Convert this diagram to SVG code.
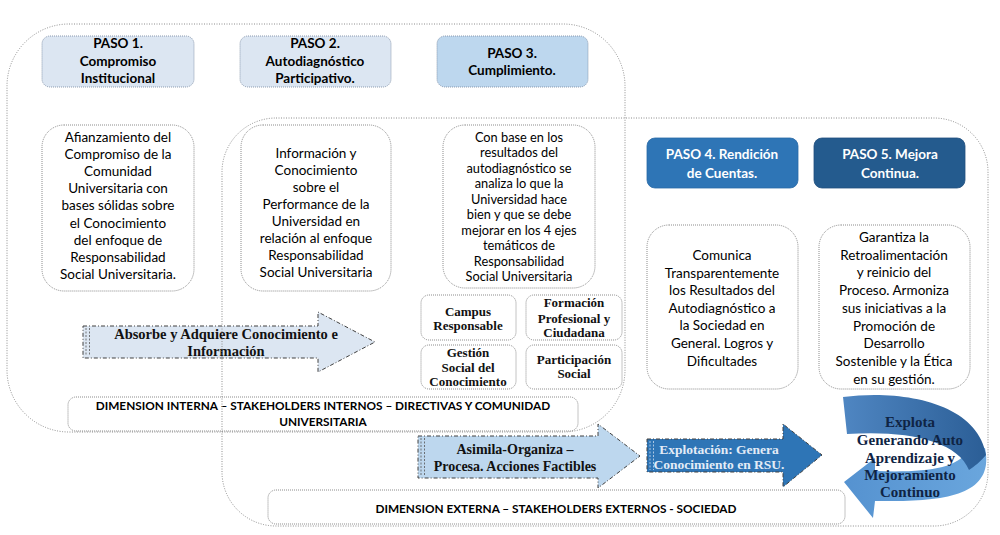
<svg xmlns="http://www.w3.org/2000/svg" width="1000" height="535" viewBox="0 0 1000 535">
<defs>
<style>
.frame{fill:none;stroke:#8c8c8c;stroke-width:1;stroke-dasharray:1 1.5}
.box{fill:#fff;stroke:#7f7f7f;stroke-width:0.9;stroke-dasharray:1 1}
.pl{fill:#dce6f2;stroke:#7f8fa6;stroke-width:0.9;stroke-dasharray:1 1}
.pm{fill:#bdd7ee;stroke:#7f8fa6;stroke-width:0.9;stroke-dasharray:1 1}
.pd{fill:#2e75b6;stroke:#2a6aa6;stroke-width:0.8}
.pdd{fill:#245b8e;stroke:#214f7e;stroke-width:0.8}
.t{font-family:Lato,"Open Sans",sans-serif;font-size:13.5px;fill:#000;text-anchor:middle}
.ts{font-size:12.8px}
.b{font-weight:bold}
.w{fill:#fff}
.dim{font-size:11.8px}
.s{font-family:"Liberation Serif","Times New Roman",serif;font-weight:bold;text-anchor:middle;fill:#111}
.e{font-size:13px}
.lp{font-size:15px;fill:#0f2444}
.arr{stroke:#404040;stroke-width:1;stroke-dasharray:4 2 1 2}
.stripe{stroke:#555;stroke-width:0.8;stroke-dasharray:2 1.5;fill:none}
</style>
<linearGradient id="gDark" x1="0" y1="0" x2="1" y2="0">
<stop offset="0" stop-color="#4f86c2"/>
<stop offset="1" stop-color="#2b5e96"/>
</linearGradient>
<linearGradient id="gLight" x1="0" y1="0" x2="1" y2="0">
<stop offset="0" stop-color="#5592d0"/>
<stop offset="1" stop-color="#6aa6dd"/>
</linearGradient>
</defs>
<rect width="1000" height="535" fill="#fff"/>

<g id="paso1">
<rect class="pl" x="42" y="36" width="152" height="51" rx="8"/>
<text class="t b" x="118" y="48">PASO 1.</text>
<text class="t b" x="118" y="66">Compromiso</text>
<text class="t b" x="118" y="83">Institucional</text>
</g>
<g id="paso2">
<rect class="pl" x="240" y="36" width="151" height="51" rx="8"/>
<text class="t b" x="315" y="48">PASO 2.</text>
<text class="t b" x="315" y="66">Autodiagnóstico</text>
<text class="t b" x="315" y="83">Participativo.</text>
</g>
<g id="paso3">
<rect class="pm" x="437" y="36" width="151" height="51" rx="8"/>
<text class="t b" x="512" y="58">PASO 3.</text>
<text class="t b" x="512" y="75">Cumplimiento.</text>
</g>
<g id="paso4">
<rect class="pd" x="647" y="138" width="151" height="50" rx="8"/>
<text class="t b w" x="722" y="159">PASO 4. Rendición</text>
<text class="t b w" x="722" y="178">de Cuentas.</text>
</g>
<g id="paso5">
<rect class="pdd" x="814" y="138" width="151" height="50" rx="8"/>
<text class="t b w" x="890" y="159">PASO 5. Mejora</text>
<text class="t b w" x="890" y="178">Continua.</text>
</g>

<g id="desc1">
<rect class="box" x="42" y="125" width="152" height="166" rx="22"/>
<text class="t" x="118" y="142">Afianzamiento del</text>
<text class="t" x="118" y="159.1">Compromiso de la</text>
<text class="t" x="118" y="176.2">Comunidad</text>
<text class="t" x="118" y="193.3">Universitaria con</text>
<text class="t" x="118" y="210.4">bases sólidas sobre</text>
<text class="t" x="118" y="227.5">el Conocimiento</text>
<text class="t" x="118" y="244.6">del enfoque de</text>
<text class="t" x="118" y="261.7">Responsabilidad</text>
<text class="t" x="118" y="278.8">Social Universitaria.</text>
</g>
<g id="desc2">
<rect class="box" x="241" y="125" width="150" height="166" rx="22"/>
<text class="t" x="316" y="158">Información y</text>
<text class="t" x="316" y="175">Conocimiento</text>
<text class="t" x="316" y="192">sobre el</text>
<text class="t" x="316" y="209">Performance de la</text>
<text class="t" x="316" y="226">Universidad en</text>
<text class="t" x="316" y="243">relación al enfoque</text>
<text class="t" x="316" y="260">Responsabilidad</text>
<text class="t" x="316" y="277">Social Universitaria</text>
</g>
<g id="desc3">
<rect class="box" x="443" y="125" width="152" height="163" rx="22"/>
<text class="t ts" x="519" y="141.5">Con base en los</text>
<text class="t ts" x="519" y="157">resultados del</text>
<text class="t ts" x="519" y="172.6">autodiagnóstico se</text>
<text class="t ts" x="519" y="188.1">analiza lo que la</text>
<text class="t ts" x="519" y="203.7">Universidad hace</text>
<text class="t ts" x="519" y="219.2">bien y que se debe</text>
<text class="t ts" x="519" y="234.8">mejorar en los 4 ejes</text>
<text class="t ts" x="519" y="250.3">temáticos de</text>
<text class="t ts" x="519" y="265.9">Responsabilidad</text>
<text class="t ts" x="519" y="281.4">Social Universitaria</text>
</g>
<g id="eje1">
<rect class="box" x="421" y="295" width="95" height="45" rx="8"/>
<text class="s e" x="468" y="316">Campus</text>
<text class="s e" x="468" y="330">Responsable</text>
</g>
<g id="eje2">
<rect class="box" x="526" y="295" width="96" height="45" rx="8"/>
<text class="s e" x="574" y="307">Formación</text>
<text class="s e" x="574" y="322.5">Profesional y</text>
<text class="s e" x="574" y="337">Ciudadana</text>
</g>
<g id="eje3">
<rect class="box" x="421" y="345" width="95" height="44" rx="8"/>
<text class="s e" x="468" y="357">Gestión</text>
<text class="s e" x="468" y="372">Social del</text>
<text class="s e" x="468" y="386">Conocimiento</text>
</g>
<g id="eje4">
<rect class="box" x="526" y="345" width="96" height="44" rx="8"/>
<text class="s e" x="574" y="363.5">Participación</text>
<text class="s e" x="574" y="377.5">Social</text>
</g>
<g id="desc4">
<rect class="box" x="647" y="225" width="151" height="164" rx="22"/>
<text class="t" x="722" y="260">Comunica</text>
<text class="t" x="722" y="277.6">Transparentemente</text>
<text class="t" x="722" y="295.2">los Resultados del</text>
<text class="t" x="722" y="312.8">Autodiagnóstico a</text>
<text class="t" x="722" y="330.4">la Sociedad en</text>
<text class="t" x="722" y="348">General. Logros y</text>
<text class="t" x="722" y="365.6">Dificultades</text>
</g>
<g id="desc5">
<rect class="box" x="819" y="225" width="151" height="164" rx="22"/>
<text class="t" x="894" y="242">Garantiza la</text>
<text class="t" x="894" y="259.7">Retroalimentación</text>
<text class="t" x="894" y="277.4">y reinicio del</text>
<text class="t" x="894" y="295.1">Proceso. Armoniza</text>
<text class="t" x="894" y="312.8">sus iniciativas a la</text>
<text class="t" x="894" y="330.5">Promoción de</text>
<text class="t" x="894" y="348.2">Desarrollo</text>
<text class="t" x="894" y="365.9">Sostenible y la Ética</text>
<text class="t" x="894" y="383.6">en su gestión.</text>
</g>
<g id="dimInterna">
<rect class="box" x="68" y="397" width="510" height="34" rx="8"/>
<text class="t b dim" x="323" y="409.5">DIMENSION INTERNA – STAKEHOLDERS INTERNOS – DIRECTIVAS Y COMUNIDAD</text>
<text class="t b dim" x="323" y="425.5">UNIVERSITARIA</text>
</g>
<g id="dimExterna">
<rect class="box" x="268" y="490" width="577" height="34" rx="8"/>
<text class="t b dim" x="556" y="512.5">DIMENSION EXTERNA – STAKEHOLDERS EXTERNOS - SOCIEDAD</text>
</g>

<g id="connectors">
<g id="arrow1">
<path class="arr" fill="#dce6f2" d="M83,326 H318 V312 L375,342 L318,372 V358 H83 Z"/>
<path class="stripe" d="M86,328 V356 M89.5,328 V356"/>
<text class="s" font-size="14.5" x="226" y="339">Absorbe y Adquiere Conocimiento e</text>
<text class="s" font-size="14.5" x="226" y="356">Información</text>
</g>
<g id="arrow2">
<path class="arr" fill="#bdd7ee" d="M418,436 H598 V424 L640,456 L598,488 V478 H418 Z"/>
<path class="stripe" d="M421,438 V476 M424.5,438 V476"/>
<text class="s" font-size="14" x="515" y="454">Asimila-Organiza –</text>
<text class="s" font-size="14" x="515" y="471">Procesa. Acciones Factibles</text>
</g>
<g id="arrow3">
<path class="arr" fill="#2e75b6" d="M647,439 H783 V424 L822,455 L783,487 V472 H647 Z"/>
<path class="stripe" d="M650,441 V470 M653.5,441 V470" style="stroke:#c9d9ee"/>
<text class="s" font-size="13.5" x="719" y="454" style="fill:#e3ecf7">Explotación: Genera</text>
<text class="s" font-size="13.5" x="719" y="469" style="fill:#e3ecf7">Conocimiento en RSU.</text>
</g>
<g id="arrowLoop">
<path fill="url(#gLight)" d="M985,448 C995,496 945,502 875,501 L873,518 L844,482 L875,458 L875,471 C925,473 958,468 966,452 Z"/>
<path fill="url(#gDark)" d="M843,397 C905,389 978,404 986,455 C980,462 975,466 969,470 C957,440 905,430 847,434 Z"/>
<text class="s lp" x="910" y="427">Explota</text>
<text class="s lp" x="910" y="445">Generando Auto</text>
<text class="s lp" x="910" y="463">Aprendizaje y</text>
<text class="s lp" x="910" y="480">Mejoramiento</text>
<text class="s lp" x="910" y="497">Continuo</text>
</g>
</g>

<g id="frames">
<rect id="frameInterna" class="frame" x="7" y="24" width="618" height="408" rx="62"/>
<rect id="frameExterna" class="frame" x="222" y="118" width="766" height="408" rx="54"/>
</g>
</svg>
